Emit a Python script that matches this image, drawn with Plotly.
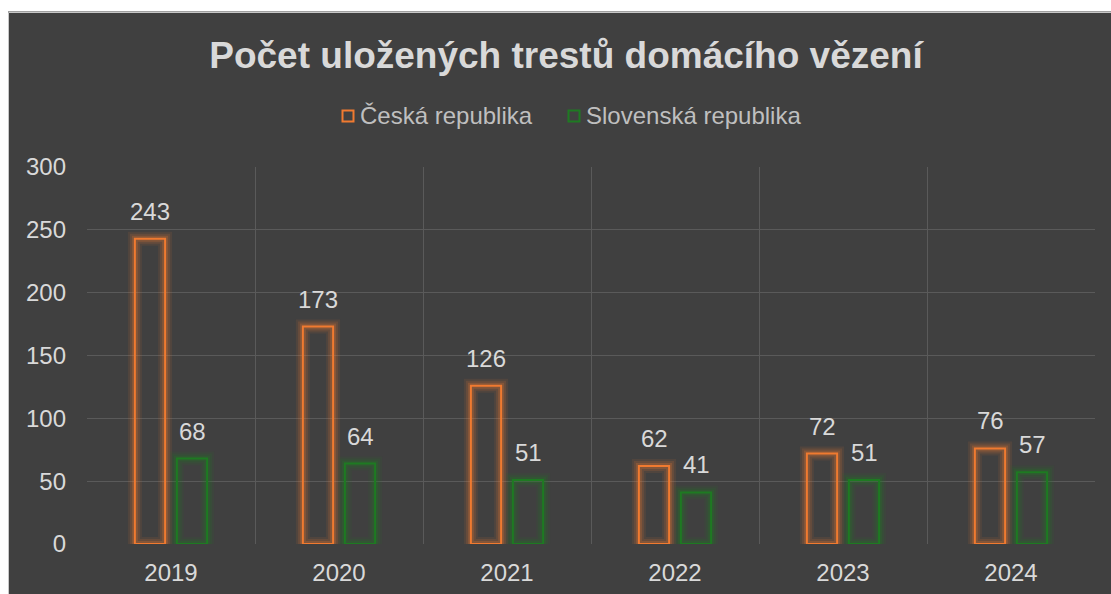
import plotly.graph_objects as go

years = ["2019", "2020", "2021", "2022", "2023", "2024"]
cz_values = [243, 173, 126, 62, 72, 76]
sk_values = [68, 64, 51, 41, 51, 57]
series_names = ["Česká republika", "Slovenská republika"]
y_ticks = [0, 50, 100, 150, 200, 250, 300]

BG = "#404040"
ORANGE = "#F07A30"
GREEN = "#1E7A22"
TXT = "#D9D9D9"
GRID = "#5A5A5A"
FONT = "Liberation Sans, Arial, sans-serif"

W, H = 1111, 594
L, R, T, B = 87, 16, 167, 50
PW, PH = W - L - R, H - T - B

xpos = list(range(len(years)))
bar_w = 0.18
offsets = {0: -0.125 - bar_w / 2, 1: 0.125 - bar_w / 2}

fig = go.Figure()
series = [(cz_values, ORANGE, "240,122,48"), (sk_values, GREEN, "30,122,34")]
for k, (vals, col, rgb) in enumerate(series):
    for lw, a in [(14, 0.09), (10, 0.14), (6, 0.22)]:
        fig.add_trace(go.Bar(
            x=xpos, y=vals, width=bar_w, offset=offsets[k],
            marker=dict(color="rgba(0,0,0,0)", line=dict(color=f"rgba({rgb},{a})", width=lw)),
            showlegend=False, hoverinfo="skip"))
    fig.add_trace(go.Bar(
        x=xpos, y=vals, width=bar_w, offset=offsets[k], name=series_names[k],
        marker=dict(color="rgba(0,0,0,0)", line=dict(color=col, width=2)),
        showlegend=False))

annotations = []
for k, vals in enumerate([cz_values, sk_values]):
    for i, v in enumerate(vals):
        annotations.append(dict(
            x=i + offsets[k] + bar_w / 2, y=v, xref="x", yref="y",
            text=str(v), showarrow=False, yanchor="bottom", yshift=12,
            font=dict(family=FONT, size=24, color=TXT)))

# manual legend
def px_to_paper_x(px):
    return (px - L) / PW

def px_to_paper_y(py):
    return 1 - (py - T) / PH

shapes = []
leg_items = [(348, 358, ORANGE), (574, 584, GREEN)]
for (sx, tx, col), name in zip(leg_items, series_names):
    shapes.append(dict(type="rect", xref="paper", yref="paper",
                       x0=px_to_paper_x(sx - 5.5), x1=px_to_paper_x(sx + 5.5),
                       y0=px_to_paper_y(116 + 5.5), y1=px_to_paper_y(116 - 5.5),
                       line=dict(color=col, width=2), fillcolor="rgba(0,0,0,0)"))
    annotations.append(dict(x=px_to_paper_x(tx), y=px_to_paper_y(116), xref="paper", yref="paper",
                            text=name, showarrow=False, xanchor="left", yanchor="middle",
                            font=dict(family=FONT, size=24, color="#BFBFBF")))

# white margins & border (outside the dark chart area)
shapes.append(dict(type="rect", xref="paper", yref="paper",
                   x0=px_to_paper_x(0), x1=px_to_paper_x(W + 2),
                   y0=px_to_paper_y(11.5), y1=px_to_paper_y(-2),
                   fillcolor="white", line=dict(width=0), layer="above"))
shapes.append(dict(type="rect", xref="paper", yref="paper",
                   x0=px_to_paper_x(-2), x1=px_to_paper_x(8),
                   y0=px_to_paper_y(H + 2), y1=px_to_paper_y(-2),
                   fillcolor="white", line=dict(width=0), layer="above"))
shapes.append(dict(type="path", xref="paper", yref="paper",
                   path=f"M {px_to_paper_x(8.5)},{px_to_paper_y(H + 2)} L {px_to_paper_x(8.5)},{px_to_paper_y(12.5)} L {px_to_paper_x(W + 2)},{px_to_paper_y(12.5)}",
                   line=dict(color="#C8C8C8", width=1), layer="above"))

fig.update_layout(
    width=W, height=H,
    margin=dict(l=L, r=R, t=T, b=B, autoexpand=False),
    paper_bgcolor=BG, plot_bgcolor=BG,
    barmode="overlay",
    title=dict(text="<b>Počet uložených trestů domácího vězení</b>",
               x=px_to_paper_x(566), xref="paper", xanchor="center",
               y=1 - 55 / H, yref="container", yanchor="middle",
               font=dict(family=FONT, size=37, color=TXT)),
    xaxis=dict(range=[-0.5, len(years) - 0.5], tickvals=xpos, ticktext=years,
               showgrid=False, zeroline=False, showline=False, ticks="",
               automargin=False,
               tickfont=dict(family=FONT, size=24, color=TXT), ticklabelstandoff=12,
               minor=dict(tickvals=[i - 0.5 for i in range(len(years) + 1)],
                          showgrid=True, gridcolor=GRID, gridwidth=1, ticks="")),
    yaxis=dict(range=[0, 300], tickvals=y_ticks, showgrid=False, zeroline=False,
               showline=False, ticks="", automargin=False,
               tickfont=dict(family=FONT, size=24, color=TXT), ticklabelstandoff=20,
               minor=dict(tickvals=y_ticks[1:], showgrid=True, gridcolor=GRID,
                          gridwidth=1, ticks="")),
    annotations=annotations, shapes=shapes, showlegend=False,
)

fig.write_html("out.html")
